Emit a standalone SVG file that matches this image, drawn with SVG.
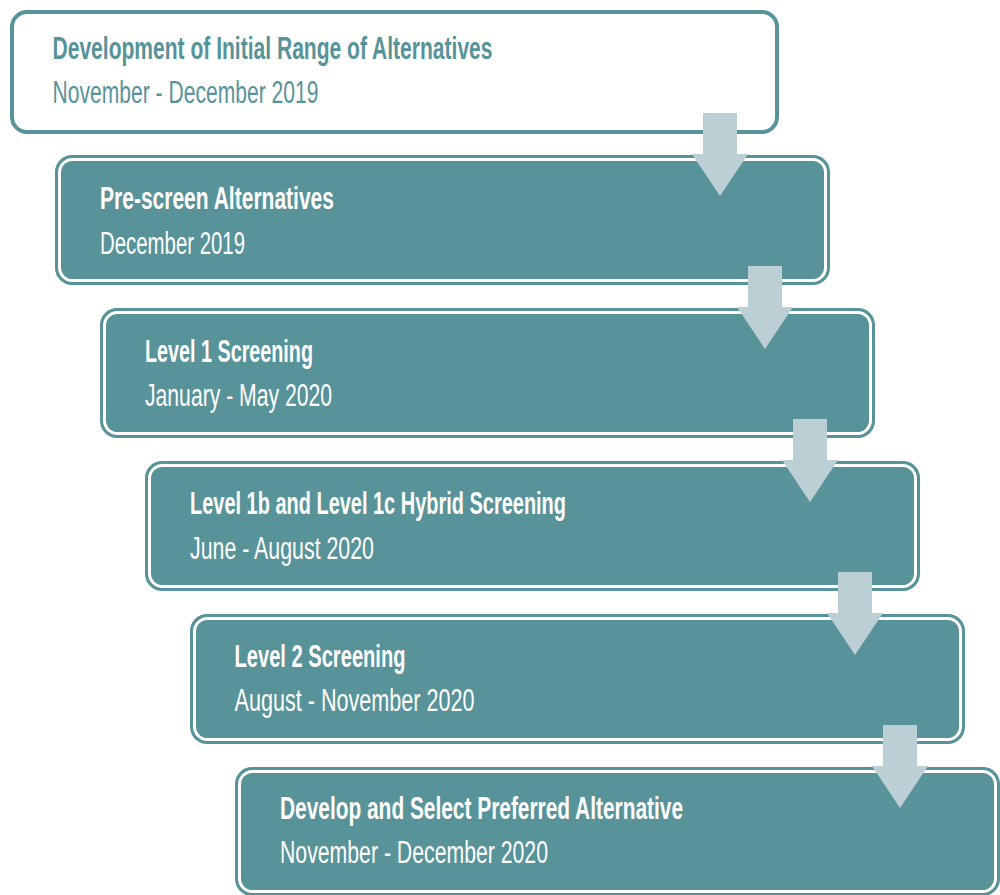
<svg xmlns="http://www.w3.org/2000/svg" width="1000" height="895" viewBox="0 0 1000 895">
<style>
.b1{fill:#ffffff;stroke:#579399;stroke-width:4}
.bo{fill:#579399}
.bi{fill:#579399;stroke:#ffffff;stroke-width:3}
.t{font-family:"Liberation Sans",Arial,sans-serif;font-weight:bold;font-size:31px;fill:#ffffff}
.s{font-family:"Liberation Sans",Arial,sans-serif;font-size:31px;fill:#ffffff}
.dk{fill:#579399}
.arr{fill:#bccfd4}
</style>
<rect width="1000" height="895" fill="#ffffff"/>
<g id="node1">
<rect class="b1" x="12" y="12" width="765" height="120" rx="15"/>
<text class="t dk" x="52.5" y="59" textLength="440" lengthAdjust="spacingAndGlyphs">Development of Initial Range of Alternatives</text>
<text class="s dk" x="52.5" y="103" textLength="266" lengthAdjust="spacingAndGlyphs">November - December 2019</text>
</g>
<g id="node2">
<rect class="bo" x="55" y="155" width="775" height="130" rx="17"/>
<rect class="bi" x="59.5" y="159.5" width="766" height="121" rx="13"/>
<text class="t" x="100" y="209" textLength="234" lengthAdjust="spacingAndGlyphs">Pre-screen Alternatives</text>
<text class="s" x="100" y="254" textLength="145" lengthAdjust="spacingAndGlyphs">December 2019</text>
</g>
<g id="node3">
<rect class="bo" x="100" y="308" width="775" height="130" rx="17"/>
<rect class="bi" x="104.5" y="312.5" width="766" height="121" rx="13"/>
<text class="t" x="145" y="362" textLength="168" lengthAdjust="spacingAndGlyphs">Level 1 Screening</text>
<text class="s" x="145" y="406" textLength="187" lengthAdjust="spacingAndGlyphs">January - May 2020</text>
</g>
<g id="node4">
<rect class="bo" x="145" y="461" width="775" height="130" rx="17"/>
<rect class="bi" x="149.5" y="465.5" width="766" height="121" rx="13"/>
<text class="t" x="190" y="514" textLength="376" lengthAdjust="spacingAndGlyphs">Level 1b and Level 1c Hybrid Screening</text>
<text class="s" x="190" y="559" textLength="184" lengthAdjust="spacingAndGlyphs">June - August 2020</text>
</g>
<g id="node5">
<rect class="bo" x="190" y="614" width="775" height="130" rx="17"/>
<rect class="bi" x="194.5" y="618.5" width="766" height="121" rx="13"/>
<text class="t" x="234.5" y="667" textLength="171" lengthAdjust="spacingAndGlyphs">Level 2 Screening</text>
<text class="s" x="234.5" y="711" textLength="240" lengthAdjust="spacingAndGlyphs">August - November 2020</text>
</g>
<g id="node6">
<rect class="bo" x="235" y="767" width="765" height="129" rx="17"/>
<rect class="bi" x="239.5" y="771.5" width="756" height="120" rx="13"/>
<text class="t" x="280" y="819" textLength="403" lengthAdjust="spacingAndGlyphs">Develop and Select Preferred Alternative</text>
<text class="s" x="280" y="863" textLength="268" lengthAdjust="spacingAndGlyphs">November - December 2020</text>
</g>
<g id="connectors">
<polygon class="arr" points="703,113 737,113 737,154 748,154 720,196 692,154 703,154"/>
<polygon class="arr" points="748,266 782,266 782,307 793,307 765,349 737,307 748,307"/>
<polygon class="arr" points="793,419 827,419 827,460 838,460 810,502 782,460 793,460"/>
<polygon class="arr" points="838,572 872,572 872,613 883,613 855,655 827,613 838,613"/>
<polygon class="arr" points="883,725 917,725 917,766 928,766 900,808 872,766 883,766"/>
</g>
</svg>
